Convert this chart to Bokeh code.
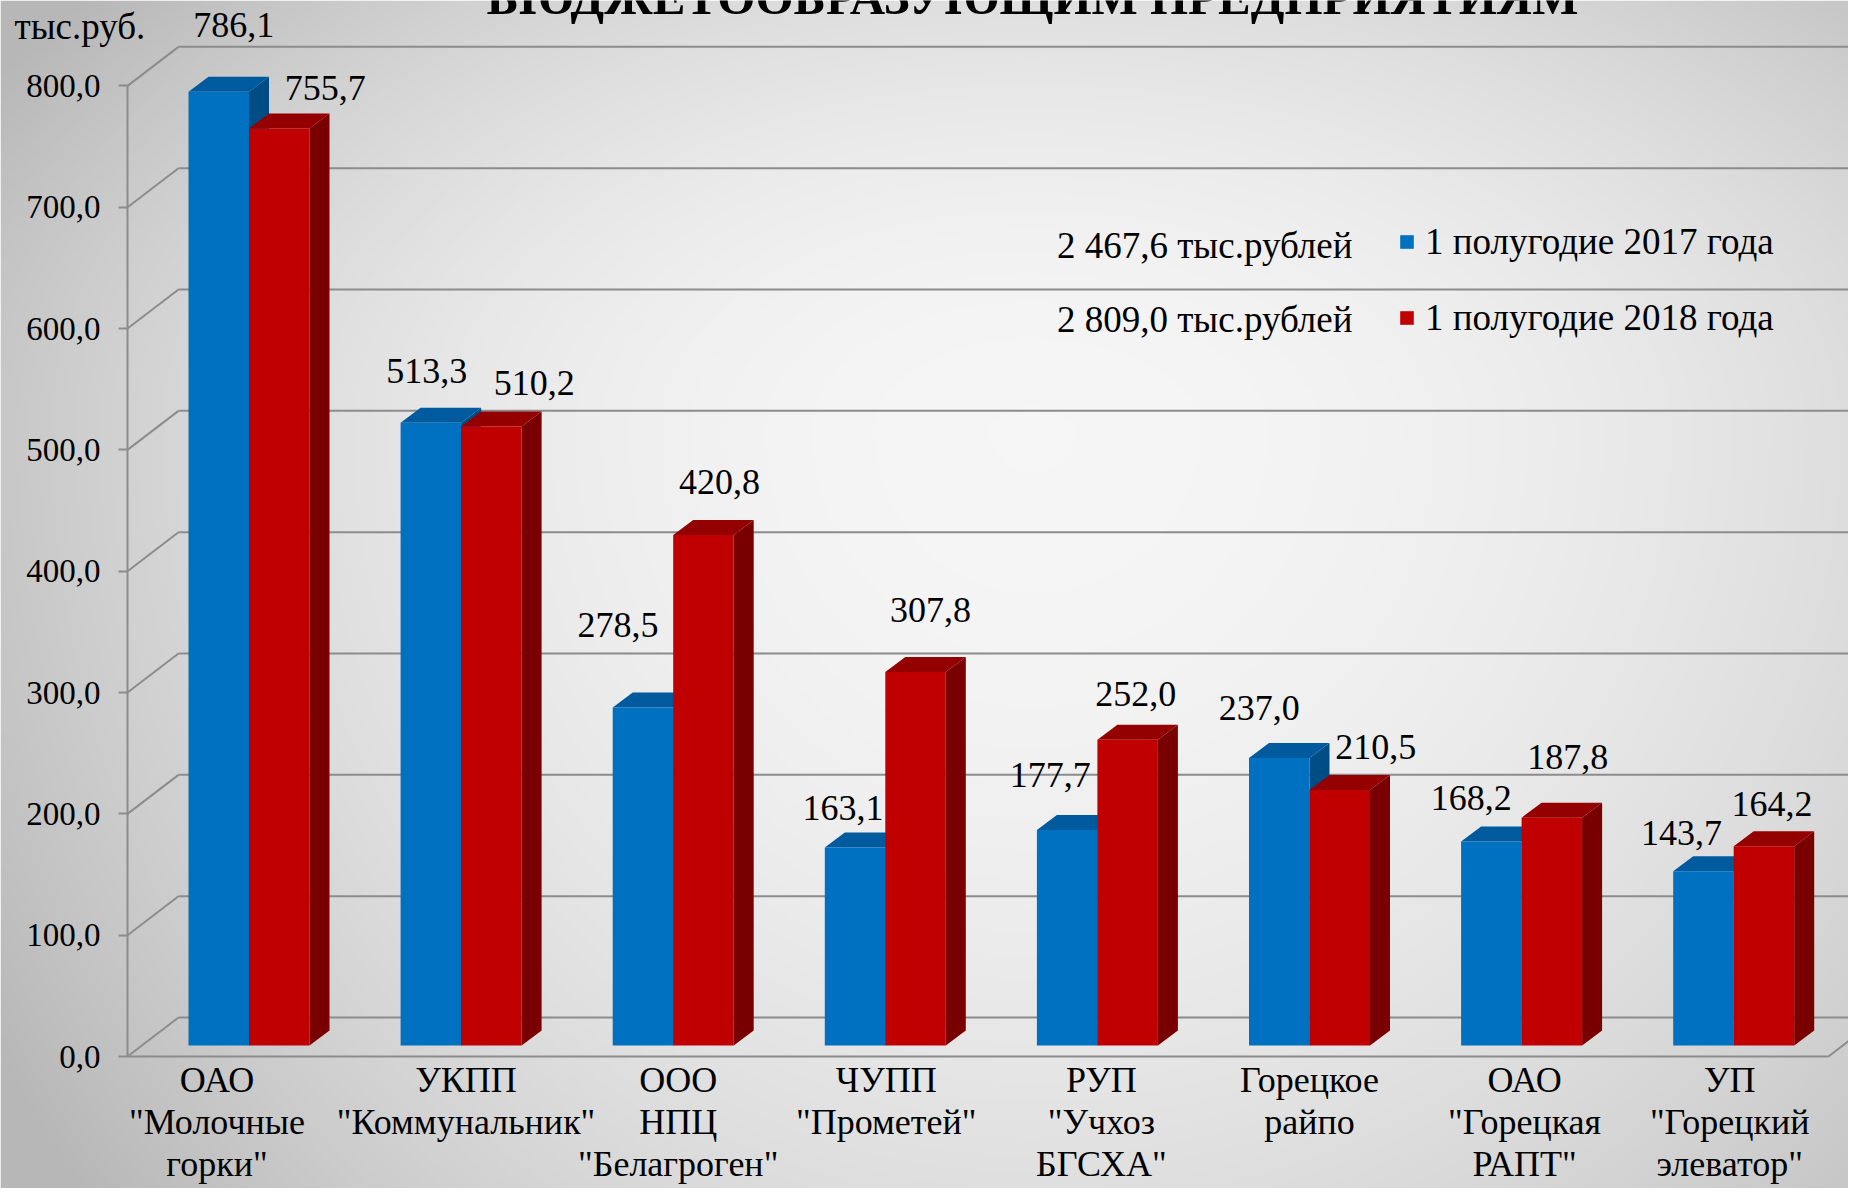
import numpy as np
from bokeh.plotting import figure
from bokeh.models import (Range1d, FixedTicker, CustomJSTickFormatter, Label,
                          Legend, LegendItem)
from bokeh.core.properties import value
from bokeh.embed import file_html
from bokeh.resources import INLINE

# ---------------- data ----------------
categories = ['ОАО\n"Молочные\nгорки"', 'УКПП\n"Коммунальник"', 'ООО\nНПЦ\n"Белагроген"',
              'ЧУПП\n"Прометей"', 'РУП\n"Учхоз\nБГСХА"', 'Горецкое\nрайпо',
              'ОАО\n"Горецкая\nРАПТ"', 'УП\n"Горецкий\nэлеватор"']
h1_2017 = [786.1, 513.3, 278.5, 163.1, 177.7, 237.0, 168.2, 143.7]
h1_2018 = [755.7, 510.2, 420.8, 307.8, 252.0, 210.5, 187.8, 164.2]
series_names = ["1 полугодие 2017 года", "1 полугодие 2018 года"]
y_ticks = [0, 100, 200, 300, 400, 500, 600, 700, 800]
title_text = "БЮДЖЕТООБРАЗУЮЩИМ ПРЕДПРИЯТИЯМ"
unit_text = "тыс.руб."
total_suffix = " тыс.рублей"

# ---------------- layout / style ----------------
W, H = 1848, 1188
AXL, FB = 127, 1056             # canvas x of value axis, canvas y of value 0
PX_CAT, CAT0 = 212.1, 248.5     # px per category, canvas x of first category
PX_VAL = 1.2133                 # px per value unit
FONT = "Liberation Serif"
BLUE, BLUE_TOP, BLUE_SIDE = "#0070C0", "#005A9E", "#004C85"
RED, RED_TOP, RED_SIDE = "#C00000", "#940000", "#780000"
GRID = "#8c8c8c"
# manual label nudges (screen px) as in the original slide
lab_dx = [[15, -4, -25, -12, -17, -20, -20, -22], [46, 43, 16, 15, 8, 36, 16, 8]]
lab_dy = [[67, 52, 83, 40, 55, 50, 43, 38], [41, 43, 53, 62, 46, 43, 61, 42]]
cat_dx = [-32, 5, 5, 1, 4, 0, 3, -4]

x_start = -CAT0 / PX_CAT
x_end = (W - CAT0) / PX_CAT
y_start = (FB - H) / PX_VAL
y_end = FB / PX_VAL
x0 = (AXL - CAT0) / PX_CAT                # value-axis position
WDX, WDY = 51 / PX_CAT, 39 / PX_VAL       # wall depth
BDX, BDY = 20 / PX_CAT, 15 / PX_VAL       # bar depth
LIFT = 11 / PX_VAL                        # bar base lifted (bar set back in depth)
BW = 60.5 / PX_CAT                        # bar width
XR = (1828 - CAT0) / PX_CAT               # right end of floor

def fmt(v):
    return f"{v:.1f}".replace(".", ",")

def fmt_total(v):
    return f"{v:,.1f}".replace(",", " ").replace(".", ",")

p = figure(width=W, height=H, x_range=Range1d(x_start, x_end), y_range=Range1d(y_start, y_end),
           output_backend="svg", toolbar_location=None,
           min_border_left=0, min_border_right=0, min_border_top=0, min_border_bottom=0)
p.grid.visible = False
p.outline_line_color = None
p.border_fill_color = "#c0c0c0"

# background gradient (decoration)
nx, ny = 462, 297
xs_c = (np.arange(nx) + 0.5) * W / nx
ys_c = H - (np.arange(ny) + 0.5) * H / ny
X, Y = np.meshgrid(xs_c, ys_c)
cx, cy = 1030.0, 430.0
rx = np.where(X < cx, 1050.0, 1150.0)
ry = np.where(Y < cy, 620.0, 1100.0)
r2 = ((X - cx) / rx) ** 2 + ((Y - cy) / ry) ** 2
b = np.clip(0.965 - 0.19 * r2, 0.72, 1.0)
g = (b * 255).astype(np.uint32)
img = np.empty((ny, nx), dtype=np.uint32)
img[:] = (255 << 24) | (g << 16) | (g << 8) | g
p.image_rgba(image=[img], x=x_start, y=y_start, dw=x_end - x_start, dh=y_end - y_start)

# walls: gridlines on back wall and left-wall diagonals
gx0 = [x0] * len(y_ticks) + [x0 + WDX] * len(y_ticks) + [XR]
gy0 = list(y_ticks) + [t + WDY for t in y_ticks] + [0]
gx1 = [x0 + WDX] * len(y_ticks) + [x_end + 1] * len(y_ticks) + [XR + WDX]
gy1 = [t + WDY for t in y_ticks] * 2 + [WDY]
p.segment(x0=gx0, y0=gy0, x1=gx1, y1=gy1, line_color=GRID, line_width=2)

# bars
renderers = []
for s, (vals, cf, ct, cs) in enumerate([(h1_2017, BLUE, BLUE_TOP, BLUE_SIDE),
                                         (h1_2018, RED, RED_TOP, RED_SIDE)]):
    left = [i - BW + s * BW for i in range(len(vals))]
    right = [l + BW for l in left]
    top = [LIFT + v for v in vals]
    side_xs = [[r, r + BDX, r + BDX, r] for r in right]
    side_ys = [[LIFT, LIFT + BDY, t + BDY, t] for t in top]
    top_xs = [[l, r, r + BDX, l + BDX] for l, r in zip(left, right)]
    top_ys = [[t, t, t + BDY, t + BDY] for t in top]
    p.patches(xs=side_xs, ys=side_ys, fill_color=cs, line_color=None)
    p.patches(xs=top_xs, ys=top_ys, fill_color=ct, line_color=None)
    r = p.quad(left=left, right=right, bottom=[LIFT] * len(vals), top=top,
               fill_color=cf, line_color=None)
    renderers.append(r)
    p.text(x=[(l + rr) / 2 + dx / PX_CAT for l, rr, dx in zip(left, right, lab_dx[s])],
           y=[t + dy / PX_VAL for t, dy in zip(top, lab_dy[s])], text=[fmt(v) for v in vals],
           text_align="center", text_baseline="middle",
           text_font=value(FONT), text_font_size="36px", text_color="black")

# axes (drawn at fixed positions inside the 3-D box)
yax = p.yaxis[0]
yax.fixed_location = x0
yax.ticker = FixedTicker(ticks=y_ticks)
yax.formatter = CustomJSTickFormatter(code="return tick.toFixed(1).replace('.', ',');")
yax.bounds = (0, 800)
yax.axis_line_color = GRID
yax.axis_line_width = 2
yax.major_tick_line_color = GRID
yax.major_tick_line_width = 2
yax.major_tick_out = 9
yax.major_tick_in = 0
yax.minor_tick_line_color = None
yax.major_label_standoff = 18
yax.major_label_text_font = FONT
yax.major_label_text_font_size = "33px"
yax.major_label_text_color = "black"

xax = p.xaxis[0]
xax.fixed_location = 0
xax.ticker = FixedTicker(ticks=[i + d / PX_CAT for i, d in enumerate(cat_dx)])
xax.formatter = CustomJSTickFormatter(args=dict(labels=categories), code="return labels[index];")
xax.bounds = (x0, XR)
xax.axis_line_color = GRID
xax.axis_line_width = 2
xax.major_tick_line_color = None
xax.minor_tick_line_color = None
xax.major_tick_out = 0
xax.major_tick_in = 0
xax.major_label_standoff = 3
xax.major_label_text_font = FONT
xax.major_label_text_font_size = "36px"
xax.major_label_text_color = "black"
xax.major_label_text_line_height = 1.05

# legend
legend = Legend(items=[LegendItem(label=series_names[k], renderers=[renderers[k]]) for k in range(2)],
                location=(1398, 849), orientation="vertical",
                glyph_width=17, glyph_height=17, label_standoff=10, spacing=33,
                padding=0, margin=0, background_fill_alpha=0, border_line_alpha=0,
                label_text_font=FONT, label_text_font_size="37px", label_text_color="black")
p.add_layout(legend)

totals = [sum(h1_2017), sum(h1_2018)]
for k, t in enumerate(totals):
    ycan = 245 + 74 * k
    p.add_layout(Label(x=(1352 - CAT0) / PX_CAT, y=(FB - ycan) / PX_VAL,
                       text=fmt_total(t) + total_suffix, text_align="right",
                       text_baseline="middle", text_font=FONT, text_font_size="37px",
                       text_color="black"))

# unit label and the slide title cropped at the top edge
p.add_layout(Label(x=(14 - CAT0) / PX_CAT, y=(FB - 26) / PX_VAL, text=unit_text,
                   text_align="left", text_baseline="middle", text_font=FONT,
                   text_font_size="37px", text_color="black"))
p.add_layout(Label(x=(1032 - CAT0) / PX_CAT, y=(FB + 3) / PX_VAL, text=title_text,
                   text_align="center", text_baseline="alphabetic", text_font=FONT,
                   text_font_size="49px", text_font_style="bold", text_color="black"))

open("out.html", "w").write(file_html(p, INLINE))
